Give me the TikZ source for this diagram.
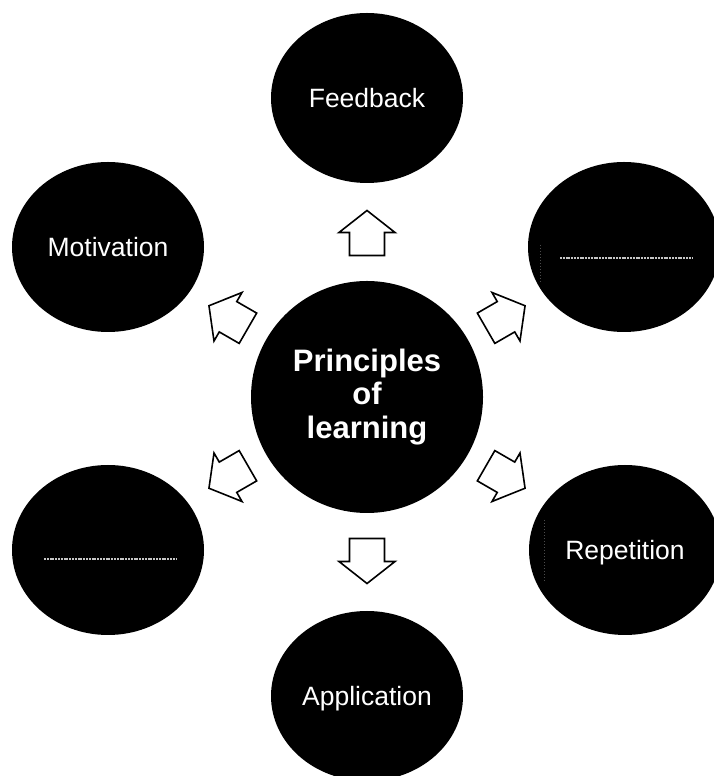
\documentclass[tikz,border=0pt]{standalone}
\usepackage{fontspec}
\setmainfont{Liberation Sans}
\usetikzlibrary{shapes.geometric}

\tikzset{
  x=1pt, y=1pt,
  disc/.style={ellipse, fill=black, draw=none, inner sep=0pt,
    minimum width=192, minimum height=170, text=white,
    font=\fontsize{26.5}{30}\selectfont, text height=19, text depth=0},
  hubdisc/.style={circle, fill=black, draw=none, inner sep=0pt,
    minimum size=232, text=white, align=center,
    font=\fontsize{31}{33.5}\selectfont\bfseries},
  blockarr/.style={draw=black, fill=white, line width=1.6pt, line join=miter},
  blankline/.style={draw=gray!45!white, line width=1.4pt, dash pattern=on 2pt off 0.8pt},
  cursormark/.style={draw=gray!60!black, line width=0.9pt, dash pattern=on 1.5pt off 1.5pt}
}

\begin{document}
\begin{tikzpicture}
  \useasboundingbox (0,0) rectangle (713,776);

  % hub and the six surrounding discs
  \node[hubdisc] (hub) at (367,379) {Principles\\of\\learning};
  \node[disc] (feedback)    at (367,678) {Feedback};
  \node[disc] (application) at (367,80)  {Application};
  \node[disc] (motivation)  at (108,529) {Motivation};
  \node[disc] (topright)    at (624,529) {};
  \node[disc] (botleft)     at (108,226) {};
  \node[disc] (repetition)  at (625,226) {Repetition};

  % empty answer lines in the two unlabelled discs
  \draw[blankline] ([shift={(-64,-11)}]topright.center) -- ([shift={(68,-11)}]topright.center);
  \draw[blankline] ([shift={(-64,-9)}]botleft.center) -- ([shift={(68,-9)}]botleft.center);

  % faint text cursors on the right-hand discs
  \draw[cursormark] ([shift={(-84,2)}]topright.center) -- ([shift={(-84,-35)}]topright.center);
  \draw[cursormark] ([shift={(-81,30)}]repetition.center) -- ([shift={(-81,-33)}]repetition.center);

  % outline block arrows pointing from the hub to each disc
  \foreach \ang/\d in {90/164, 270/164, 150/160, 30/160, 210/160, 330/160}{
    \begin{scope}[shift={(hub.center)}, rotate=\ang]
      \draw[blockarr] (\d-22.5,-17.5) -- (\d+0.5,-17.5) -- (\d+0.5,-28)
        -- (\d+22.5,0) -- (\d+0.5,28) -- (\d+0.5,17.5) -- (\d-22.5,17.5) -- cycle;
    \end{scope}
  }
\end{tikzpicture}
\end{document}
